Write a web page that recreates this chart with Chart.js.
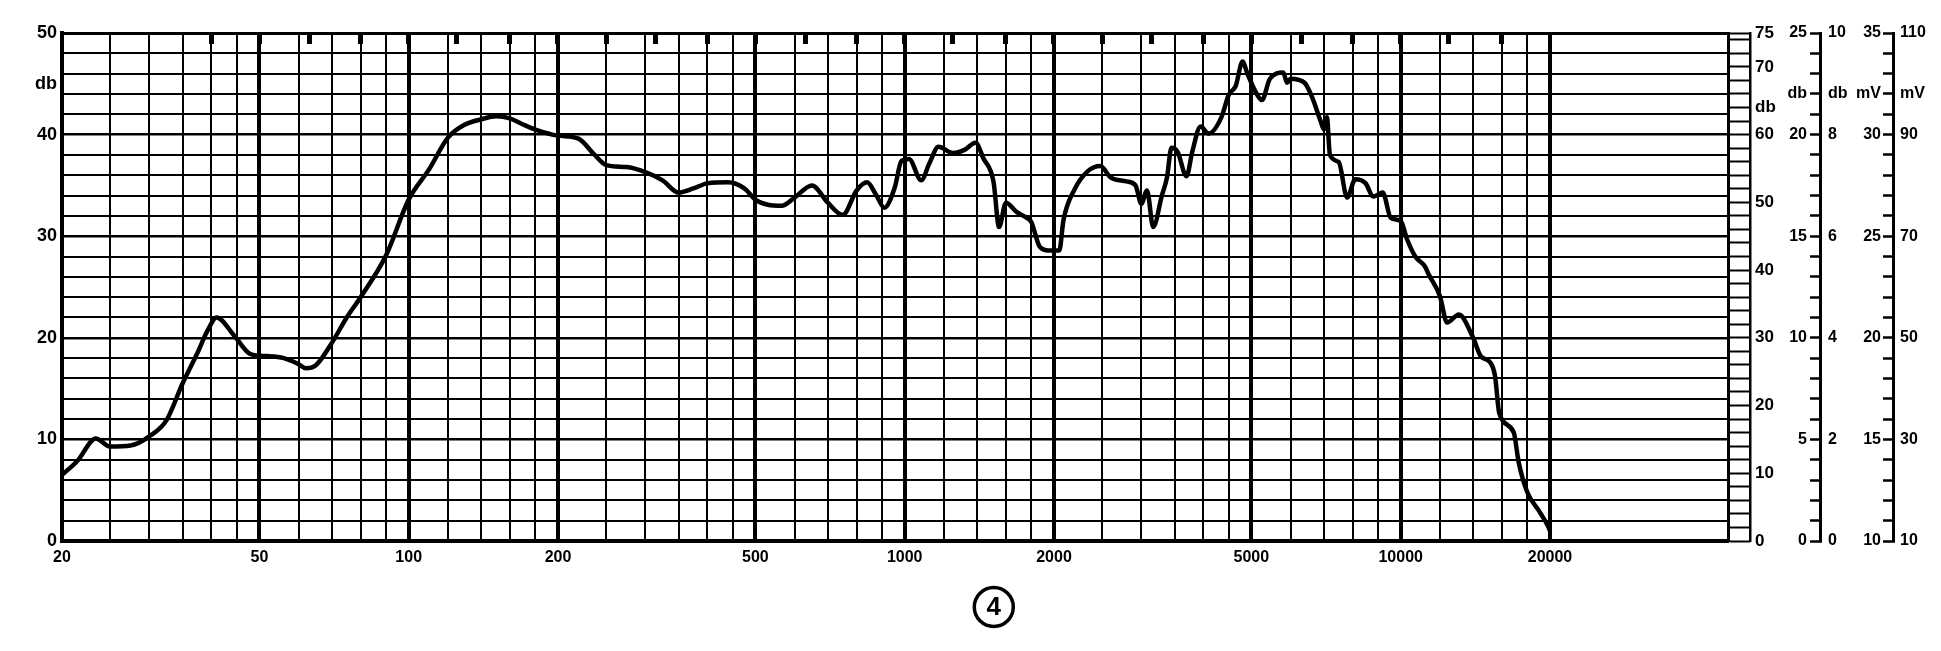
<!DOCTYPE html>
<html>
<head>
<meta charset="utf-8">
<title>Frequency response 4</title>
<script src="https://cdn.jsdelivr.net/npm/chart.js@4.4.1/dist/chart.umd.min.js"></script>
<style>
  html, body { margin: 0; padding: 0; background: #fff; }
  #wrap { width: 1941px; height: 651px; }
</style>
</head>
<body>
<div id="wrap"><canvas id="responseChart" width="1941" height="651"></canvas></div>
<script>
const freqs = [
  20, 21.5, 23.4, 25, 27.5, 30, 32.5, 35, 37.5, 39.3,
  41, 44.5, 48, 52, 56, 60, 62, 65, 70, 75,
  80, 90, 100, 110, 120, 130, 140, 150, 160, 170,
  180, 200, 220, 236, 250, 275, 300, 325, 350, 375,
  400, 440, 475, 500, 530, 565, 600, 650, 700, 750,
  800, 840, 875, 910, 955, 985, 1020, 1080, 1120, 1170,
  1250, 1320, 1390, 1440, 1510, 1550, 1600, 1680, 1750, 1800,
  1870, 1950, 2050, 2090, 2200, 2340, 2480, 2600, 2800, 2920,
  3000, 3080, 3170, 3300, 3380, 3450, 3550, 3700, 3800, 3950,
  4100, 4350, 4500, 4650, 4800, 4900, 5100, 5250, 5450, 5800,
  5900, 6000, 6400, 6600, 6900, 7000, 7100, 7200, 7500, 7800,
  8100, 8500, 8800, 9200, 9550, 10000, 10300, 10700, 11200, 11400,
  12000, 12400, 13100, 14000, 14500, 15200, 15500, 15800, 16900, 17300,
  18000, 19100, 19800, 20000
];
const levels = [
  6.5, 7.9, 10.1, 9.3, 9.4, 10.3, 11.9, 15.5, 18.5, 20.7,
  22.0, 20.2, 18.4, 18.2, 18.0, 17.4, 17.0, 17.3, 19.5, 22.0,
  24.0, 28.1, 33.6, 36.6, 39.7, 41.0, 41.5, 41.8, 41.6, 41.0,
  40.5, 39.9, 39.6, 38.1, 37.0, 36.8, 36.3, 35.5, 34.3, 34.7,
  35.2, 35.3, 34.7, 33.6, 33.1, 33.0, 33.8, 35.0, 33.3, 32.1,
  34.5, 35.3, 34.1, 32.8, 34.8, 37.4, 37.6, 35.5, 37.1, 38.8,
  38.2, 38.5, 39.2, 37.7, 35.4, 30.9, 33.3, 32.4, 31.9, 31.4,
  29.0, 28.6, 28.6, 31.6, 34.6, 36.4, 36.9, 35.8, 35.4, 35.0,
  33.2, 34.5, 30.9, 34.0, 35.8, 38.7, 38.3, 35.9, 38.3, 40.8,
  40.1, 41.7, 43.9, 44.8, 47.2, 46.1, 44.2, 43.4, 45.5, 46.1,
  45.1, 45.5, 45.1, 43.9, 41.3, 40.5, 41.7, 38.0, 37.3, 33.8,
  35.6, 35.2, 33.9, 34.3, 31.8, 31.5, 29.7, 28.0, 27.0, 26.2,
  24.1, 21.5, 22.3, 20.0, 18.2, 17.5, 16.2, 12.6, 10.7, 7.7,
  4.8, 2.8, 1.5, 1.0
];

// frequency axis (chart paper)
const gridFreqs = [20, 25, 30, 35, 40, 45, 50, 60, 70, 80, 90, 100, 120, 140, 160, 180,
  200, 250, 300, 350, 400, 450, 500, 600, 700, 800, 900, 1000, 1200, 1400, 1600, 1800,
  2000, 2500, 3000, 3500, 4000, 4500, 5000, 6000, 7000, 8000, 9000, 10000,
  12000, 14000, 16000, 18000, 20000];
const freqLabels = [20, 50, 100, 200, 500, 1000, 2000, 5000, 10000, 20000];
const heavyFreqs = [50, 100, 200, 500, 1000, 2000, 5000, 10000, 20000];
const thirdOctaves = [40, 50, 63, 80, 100, 125, 160, 200, 250, 315, 400, 500, 630, 800,
  1000, 1250, 1600, 2000, 2500, 3150, 4000, 5000, 6300, 8000, 10000, 12500, 16000];
const freqMin = 20;
const freqMax = 45700;

// left db axis
const dbTicks = [0, 2, 4, 6, 8, 10, 12, 14, 16, 18, 20, 22, 24, 26, 28, 30,
  32, 34, 36, 38, 40, 42, 44, 45, 46, 48, 50];
const dbLabels = [0, 10, 20, 30, 40, 50];
const dbUnitAt = 45;

// right 0..75 db scale
const stripTicks = [0, 2, 4, 6, 8, 10, 12, 14, 16, 18, 20, 22, 24, 26, 28, 30, 32, 34, 36,
  38, 40, 42, 44, 46, 48, 50, 52, 54, 56, 58, 60, 62, 64, 66, 68, 70, 72, 74, 75];
const db75Ticks = [0, 10, 20, 30, 40, 50, 60, 64, 70, 75];
const db75UnitAt = 64;

// side scale 1: 0..25 db / 0..10 db
const s1Ticks = [0, 1, 2, 3, 4, 5, 6, 7, 8, 9, 10, 11, 12, 13, 14, 15, 16, 17, 18, 19, 20, 21, 22, 23, 24, 25];
const s1LeftPos = [0, 5, 10, 15, 20, 25];
const s1RightText = ['0', '2', '4', '6', '8', '10'];
const s1UnitAt = 22;

// side scale 2: 10..35 mV / 10..110 mV
const s2Ticks = [10, 11, 12, 13, 14, 15, 16, 17, 18, 19, 20, 21, 22, 23, 24, 25, 26, 27, 28, 29, 30, 31, 32, 33, 34, 35];
const s2LeftPos = [10, 15, 20, 25, 30, 35];
const s2RightText = ['10', '30', '50', '70', '90', '110'];
const s2UnitAt = 32;

const INK = '#000';
const FONT = "'Liberation Sans', Arial, sans-serif";

function fixTicks(list) {
  return (scale) => { scale.ticks = list.map(v => ({ value: v })); };
}
function fixWidth(w) {
  return (scale) => { scale.width = w; };
}

// label-only or tick-only side axis on the right
function sideAxis(opts) {
  return {
    type: 'linear',
    position: 'right',
    weight: opts.weight,
    min: opts.min,
    max: opts.max,
    afterBuildTicks: fixTicks(opts.ticks),
    afterFit: fixWidth(opts.width),
    border: { display: !!opts.border, color: INK, width: opts.border || 0 },
    grid: {
      drawOnChartArea: false,
      drawTicks: !!opts.tickLength,
      tickLength: opts.tickLength || 0,
      tickWidth: opts.tickWidth || 2,
      tickColor: INK
    },
    ticks: {
      display: !!opts.label,
      autoSkip: false,
      mirror: !!opts.mirror,
      padding: opts.padding || 0,
      color: INK,
      font: { family: FONT, size: opts.size || 16, weight: 'bold' },
      callback: opts.label || (() => '')
    }
  };
}

const circledNumber = {
  id: 'circledNumber',
  afterDraw(chart) {
    const ctx = chart.ctx;
    const cx = chart.width * 0.512, cy = 607;
    ctx.save();
    ctx.strokeStyle = INK;
    ctx.lineWidth = 3.5;
    ctx.beginPath();
    ctx.arc(cx, cy, 19.5, 0, Math.PI * 2);
    ctx.stroke();
    ctx.fillStyle = INK;
    ctx.font = 'bold 26px ' + FONT;
    ctx.textAlign = 'center';
    ctx.textBaseline = 'middle';
    ctx.fillText('4', cx, cy + 1);
    ctx.restore();
  }
};

const ctx = document.getElementById('responseChart').getContext('2d');
new Chart(ctx, {
  type: 'line',
  data: {
    datasets: [{
      label: 'Response',
      data: freqs.map((f, i) => ({ x: f, y: levels[i] })),
      borderColor: INK,
      borderWidth: 4.5,
      pointRadius: 0,
      cubicInterpolationMode: 'monotone',
      fill: false
    }]
  },
  options: {
    responsive: false,
    animation: false,
    devicePixelRatio: 1,
    layout: { padding: { top: 33, left: 0, right: 0, bottom: 0 } },
    plugins: {
      legend: { display: false },
      tooltip: { enabled: false }
    },
    scales: {
      x: {
        type: 'logarithmic',
        position: 'bottom',
        min: freqMin,
        max: freqMax,
        afterBuildTicks: fixTicks(gridFreqs),
        afterFit: (scale) => { scale.height = 110; },
        border: { display: true, color: INK, width: 4 },
        grid: {
          color: INK,
          drawTicks: false,
          lineWidth: (c) => heavyFreqs.includes(c.tick && c.tick.value) ? 4 : 2
        },
        ticks: {
          autoSkip: false,
          maxRotation: 0,
          padding: 7,
          color: INK,
          font: { family: FONT, size: 16, weight: 'bold' },
          callback: (v) => freqLabels.includes(v) ? String(v) : ''
        }
      },
      xTop: {
        type: 'logarithmic',
        position: 'top',
        min: freqMin,
        max: freqMax,
        afterBuildTicks: fixTicks(thirdOctaves),
        afterFit: (scale) => { scale.height = 0; },
        border: { display: true, color: INK, width: 3 },
        grid: {
          drawOnChartArea: false,
          drawTicks: true,
          tickLength: -11,
          tickWidth: 5,
          tickColor: INK
        },
        ticks: { display: false, autoSkip: false }
      },
      y: {
        type: 'linear',
        position: 'left',
        min: 0,
        max: 50,
        afterBuildTicks: fixTicks(dbTicks),
        afterFit: fixWidth(62),
        border: { display: true, color: INK, width: 4 },
        grid: {
          drawTicks: false,
          color: (c) => (c.tick && c.tick.value === dbUnitAt) ? 'rgba(0,0,0,0)' : INK,
          lineWidth: (c) => (c.tick && c.tick.value % 10 === 0) ? 2.5 : 2
        },
        ticks: {
          autoSkip: false,
          padding: 5,
          color: INK,
          font: { family: FONT, size: 18, weight: 'bold' },
          callback: (v) => v === dbUnitAt ? 'db' : (dbLabels.includes(v) ? String(v) : '')
        }
      },
      yStrip: sideAxis({
        weight: 0, min: 0, max: 75, ticks: stripTicks, width: 22,
        border: 3, tickLength: 22, tickWidth: 2
      }),
      y75: sideAxis({
        weight: 1, min: 0, max: 75, ticks: db75Ticks, width: 70,
        border: 2.5, padding: 5, size: 17,
        label: (v) => v === db75UnitAt ? 'db' : String(v)
      }),
      s1: sideAxis({
        weight: 2, min: 0, max: 25, ticks: s1Ticks, width: 7,
        border: 3, tickLength: -10, tickWidth: 2.5, mirror: true, padding: -13,
        label: (v) => v === s1UnitAt ? 'db' : (s1LeftPos.includes(v) ? String(v) : '')
      }),
      s1Right: sideAxis({
        weight: 3, min: 0, max: 25, ticks: s1LeftPos.concat([s1UnitAt]), width: 66,
        padding: 1,
        label: (v) => v === s1UnitAt ? 'db' : s1RightText[s1LeftPos.indexOf(v)]
      }),
      s2: sideAxis({
        weight: 4, min: 10, max: 35, ticks: s2Ticks, width: 7,
        border: 3, tickLength: -10, tickWidth: 2.5, mirror: true, padding: -12,
        label: (v) => v === s2UnitAt ? 'mV' : (s2LeftPos.includes(v) ? String(v) : '')
      }),
      s2Right: sideAxis({
        weight: 5, min: 10, max: 35, ticks: s2LeftPos.concat([s2UnitAt]), width: 41,
        padding: 0,
        label: (v) => v === s2UnitAt ? 'mV' : s2RightText[s2LeftPos.indexOf(v)]
      })
    }
  },
  plugins: [circledNumber]
});
</script>
</body>
</html>
